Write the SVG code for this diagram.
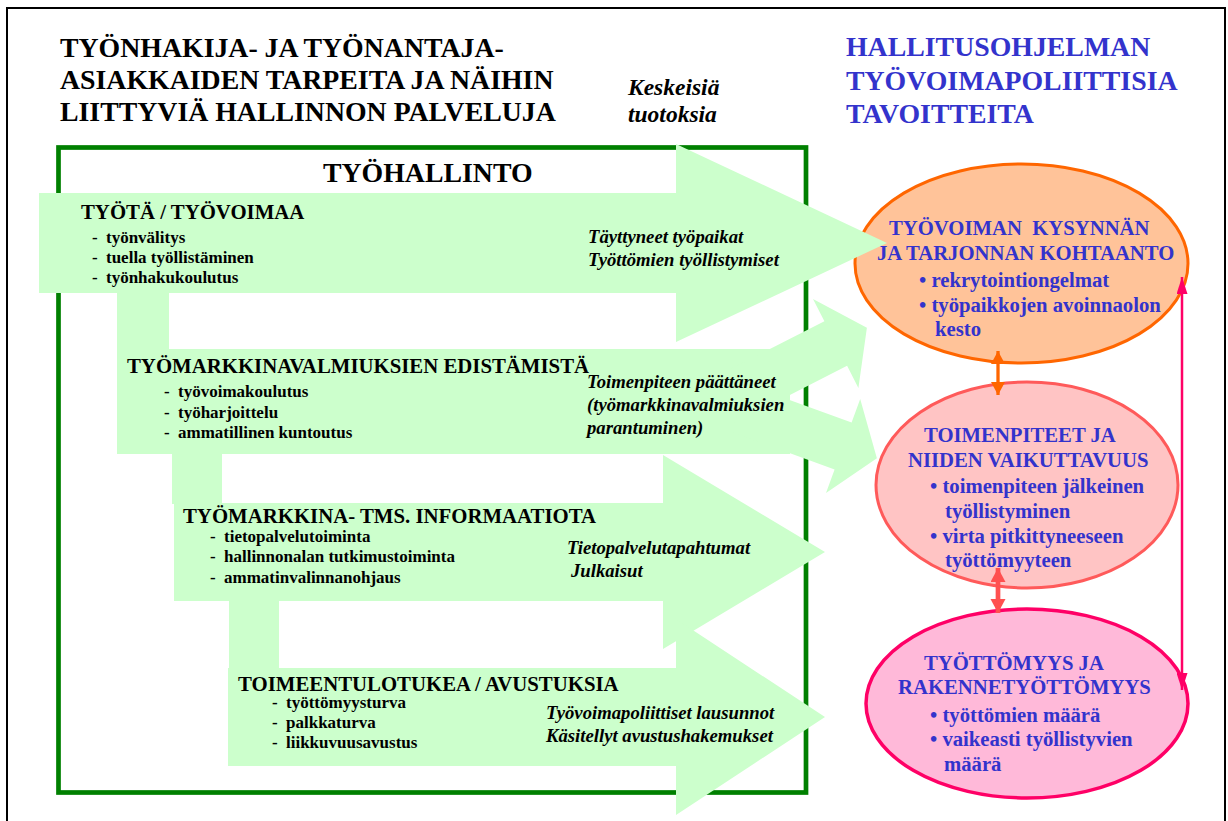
<svg xmlns="http://www.w3.org/2000/svg" width="1228" height="821" viewBox="0 0 1228 821">
<style>
text{font-family:"Liberation Serif","Times New Roman",serif;font-weight:bold;fill:#000}
.big{font-size:27.8px}
.blue{fill:#3333cc}
.hd{font-size:20.8px}
.li{font-size:17px}
.em{font-size:18.7px;font-style:italic}
.kes{font-size:23.5px;font-style:italic}
.arr{fill:#ccffcc}
.ell text{fill:#3333cc;font-size:20.7px}
</style>
<defs>
<marker id="mOr" markerUnits="userSpaceOnUse" markerWidth="14" markerHeight="14" refX="13" refY="7" orient="auto-start-reverse"><path d="M0,0 L13,7 L0,14 z" fill="#ff6600"/></marker>
<marker id="mRd" markerUnits="userSpaceOnUse" markerWidth="15" markerHeight="16" refX="14" refY="7.5" orient="auto-start-reverse"><path d="M0,0 L14,7.5 L0,15 z" fill="#ff5050"/></marker>
<marker id="mMg" markerUnits="userSpaceOnUse" markerWidth="18" markerHeight="11" refX="17" refY="5.5" orient="auto-start-reverse"><path d="M0,0 L17,5.5 L0,11 z" fill="#ff0066"/></marker>
</defs>
<rect x="0" y="0" width="1228" height="821" fill="#fff"/>
<rect x="7" y="8" width="1218" height="840" fill="none" stroke="#000" stroke-width="2"/>

<g id="title-left">
<text class="big" x="60" y="57">TYÖNHAKIJA- JA TYÖNANTAJA-</text>
<text class="big" x="60" y="89">ASIAKKAIDEN TARPEITA JA NÄIHIN</text>
<text class="big" x="60" y="121">LIITTYVIÄ HALLINNON PALVELUJA</text>
</g>
<g id="title-mid">
<text class="kes" x="628" y="95">Keskeisiä</text>
<text class="kes" x="628" y="122">tuotoksia</text>
</g>
<g id="title-right">
<text class="big blue" x="846" y="56">HALLITUSOHJELMAN</text>
<text class="big blue" x="846" y="90">TYÖVOIMAPOLIITTISIA</text>
<text class="big blue" x="846" y="123">TAVOITTEITA</text>
</g>

<g id="tyohallinto">
<rect x="58.5" y="147.5" width="747.5" height="645" fill="none" stroke="#008000" stroke-width="4.7"/>
<text class="big" x="323" y="182">TYÖHALLINTO</text>
</g>

<g id="ellipse-kohtaanto">
<ellipse cx="1021.5" cy="263.5" rx="166.5" ry="99.5" fill="#ffc399" stroke="#ff6600" stroke-width="3"/>
</g>
<g id="ellipse-toimenpiteet">
<ellipse cx="1027" cy="485" rx="151" ry="103" fill="#ffc4c4" stroke="#ff5a5a" stroke-width="3"/>
</g>
<g id="ellipse-tyottomyys">
<ellipse cx="1027" cy="703.5" rx="161" ry="94.5" fill="#ffb9d9" stroke="#ff0066" stroke-width="3.5"/>
</g>

<g id="arrow-tyota">
<polygon class="arr" points="39,193 676,193 676,144 887,243 676,342 676,293 39,293"/>
<rect class="arr" x="117" y="292" width="52" height="58"/>
<text class="hd" x="81" y="219">TYÖTÄ / TYÖVOIMAA</text>
<text class="li"><tspan x="92" y="243">-</tspan><tspan x="106">työnvälitys</tspan></text>
<text class="li"><tspan x="92" y="263">-</tspan><tspan x="106">tuella työllistäminen</tspan></text>
<text class="li"><tspan x="92" y="283">-</tspan><tspan x="106">työnhakukoulutus</tspan></text>
<text class="em" x="588" y="243">Täyttyneet työpaikat</text>
<text class="em" x="588" y="266">Työttömien työllistymiset</text>
</g>

<g id="arrow-valmiudet">
<rect class="arr" x="117" y="349" width="673" height="105"/>
<polygon class="arr" points="726.4,371.2 824.4,321.3 813,299 866.9,327.7 858.4,388.1 847.1,365.8 749.1,415.7"/>
<polygon class="arr" points="748.2,384.9 851.6,422.5 860.2,399 876.9,458.3 826,493 834.6,469.5 731.2,431.9"/>
<rect class="arr" x="172" y="453" width="50" height="51"/>
<text class="hd" x="127" y="373">TYÖMARKKINAVALMIUKSIEN EDISTÄMISTÄ</text>
<text class="li"><tspan x="164" y="397">-</tspan><tspan x="178">työvoimakoulutus</tspan></text>
<text class="li"><tspan x="164" y="418">-</tspan><tspan x="178">työharjoittelu</tspan></text>
<text class="li"><tspan x="164" y="438">-</tspan><tspan x="178">ammatillinen kuntoutus</tspan></text>
<text class="em" x="587" y="388">Toimenpiteen päättäneet</text>
<text class="em" x="587" y="411">(työmarkkinavalmiuksien</text>
<text class="em" x="587" y="434">parantuminen)</text>
</g>

<g id="arrow-informaatio">
<polygon class="arr" points="174,503 663,503 663,455 825,552 663,649 663,601 174,601"/>
<rect class="arr" x="229" y="600" width="50" height="69"/>
<text class="hd" x="183" y="523">TYÖMARKKINA- TMS. INFORMAATIOTA</text>
<text class="li"><tspan x="210" y="542">-</tspan><tspan x="224">tietopalvelutoiminta</tspan></text>
<text class="li"><tspan x="210" y="562">-</tspan><tspan x="224">hallinnonalan tutkimustoiminta</tspan></text>
<text class="li"><tspan x="210" y="583">-</tspan><tspan x="224">ammatinvalinnanohjaus</tspan></text>
<text class="em" x="567" y="554">Tietopalvelutapahtumat</text>
<text class="em" x="571" y="577">Julkaisut</text>
</g>

<g id="arrow-toimeentulo">
<polygon class="arr" points="228,668 676,668 676,619 825,717 676,815 676,766 228,766"/>
<text class="hd" x="238" y="691">TOIMEENTULOTUKEA / AVUSTUKSIA</text>
<text class="li"><tspan x="272" y="708">-</tspan><tspan x="286">työttömyysturva</tspan></text>
<text class="li"><tspan x="272" y="728">-</tspan><tspan x="286">palkkaturva</tspan></text>
<text class="li"><tspan x="272" y="748">-</tspan><tspan x="286">liikkuvuusavustus</tspan></text>
<text class="em" x="546" y="719">Työvoimapoliittiset lausunnot</text>
<text class="em" x="546" y="742">Käsitellyt avustushakemukset</text>
</g>

<g id="text-kohtaanto" class="ell">
<text x="889" y="235" xml:space="preserve">TYÖVOIMAN  KYSYNNÄN</text>
<text x="877" y="260">JA TARJONNAN KOHTAANTO</text>
<text x="919" y="287">• rekrytointiongelmat</text>
<text x="919" y="312">• työpaikkojen avoinnaolon</text>
<text x="935" y="336">kesto</text>
</g>
<g id="text-toimenpiteet" class="ell">
<text x="924" y="442">TOIMENPITEET JA</text>
<text x="908" y="467">NIIDEN VAIKUTTAVUUS</text>
<text x="930" y="493">• toimenpiteen jälkeinen</text>
<text x="945" y="518">työllistyminen</text>
<text x="930" y="543">• virta pitkittyneeseen</text>
<text x="945" y="567">työttömyyteen</text>
</g>
<g id="text-tyottomyys" class="ell">
<text x="924" y="670">TYÖTTÖMYYS JA</text>
<text x="898" y="694">RAKENNETYÖTTÖMYYS</text>
<text x="930" y="722">• työttömien määrä</text>
<text x="930" y="746">• vaikeasti työllistyvien</text>
<text x="944" y="771">määrä</text>
</g>

<g id="connectors" fill="none">
<line x1="998" y1="351" x2="998" y2="395" stroke="#ff6600" stroke-width="3.3" marker-start="url(#mOr)" marker-end="url(#mOr)"/>
<line x1="998" y1="568" x2="998" y2="613" stroke="#ff5050" stroke-width="4.7" marker-start="url(#mRd)" marker-end="url(#mRd)"/>
<line x1="1182" y1="277" x2="1182" y2="690" stroke="#ff0066" stroke-width="2.5" marker-start="url(#mMg)" marker-end="url(#mMg)"/>
</g>
</svg>
